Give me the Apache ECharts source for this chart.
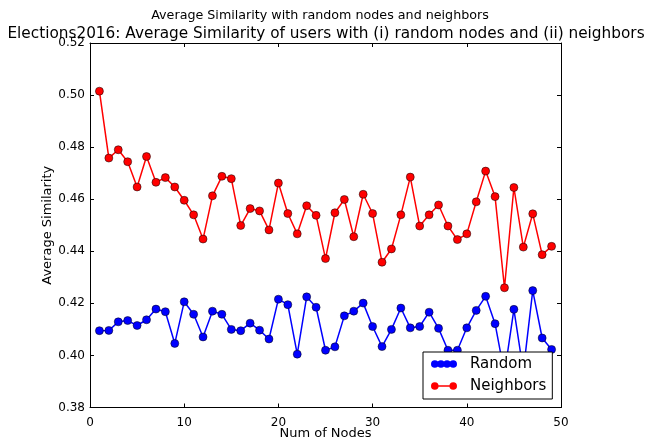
<!DOCTYPE html>
<html>
<head>
<meta charset="utf-8">
<script src="https://cdn.jsdelivr.net/npm/echarts@6/dist/echarts.min.js"></script>
<style>
  html, body { margin: 0; padding: 0; background: #fff; }
  #chart { width: 653px; height: 441px; }
</style>
</head>
<body>
<div id="chart"></div>
<script>
// Number of nodes sampled (x positions)
const nodes = [];
for (let n = 1; n <= 49; n++) nodes.push(n);

// Average similarity with random nodes
const randomSim = [
  0.4095, 0.4096, 0.4129, 0.4134, 0.4115, 0.4137, 0.4178, 0.4168, 0.4046, 0.4206,
  0.4158, 0.4071, 0.4170, 0.4158, 0.4100, 0.4095, 0.4124, 0.4097, 0.4063, 0.4216,
  0.4195, 0.4005, 0.4225, 0.4185, 0.4020, 0.4033, 0.4152, 0.4170, 0.4201, 0.4111,
  0.4034, 0.4100, 0.4182, 0.4106, 0.4111, 0.4166, 0.4104, 0.4020, 0.4020, 0.4106,
  0.4173, 0.4227, 0.4122, 0.3930, 0.4177, 0.3940, 0.4249, 0.4067, 0.4023
];

// Average similarity with neighbors
const neighborSim = [
  0.5015, 0.4758, 0.4790, 0.4744, 0.4647, 0.4764, 0.4665, 0.4683, 0.4647, 0.4596,
  0.4540, 0.4447, 0.4613, 0.4688, 0.4679, 0.4499, 0.4564, 0.4555, 0.4482, 0.4662,
  0.4545, 0.4467, 0.4575, 0.4538, 0.4372, 0.4548, 0.4599, 0.4456, 0.4619, 0.4545,
  0.4358, 0.4409, 0.4540, 0.4685, 0.4497, 0.4540, 0.4578, 0.4497, 0.4445, 0.4467,
  0.4590, 0.4708, 0.4610, 0.4260, 0.4645, 0.4416, 0.4544, 0.4387, 0.4419
];

const seriesNames = ['Random', 'Neighbors'];
const supTitle = 'Average Similarity with random nodes and neighbors';
const mainTitle = 'Elections2016: Average Similarity of users with (i) random nodes and (ii) neighbors';

const FONT = 'DejaVu Sans';

// Legend glyphs: a row of markers, and a line capped by two markers
const circle = (cx, cy, r) =>
  `M${cx - r},${cy} A${r},${r} 0 1,1 ${cx + r},${cy} A${r},${r} 0 1,1 ${cx - r},${cy} Z`;
const randomIcon = 'path://' + circle(4, 4, 3.7) + circle(10, 4, 3.7) + circle(16, 4, 3.7) + circle(22, 4, 3.7);
const neighborIcon = 'path://' + circle(4, 4, 3.7) + 'M4,3.3 L22,3.3 L22,4.7 L4,4.7 Z' + circle(22, 4, 3.7);

const pairs = vals => vals.map((v, i) => [nodes[i], v]);

const tickCommon = { inside: true, length: 4, lineStyle: { color: '#000', width: 1 } };
const lineCommon = { show: true, onZero: false, lineStyle: { color: '#000', width: 1 } };
const labelCommon = { color: '#000', fontFamily: FONT, fontSize: 12 };

const chart = echarts.init(document.getElementById('chart'), null, { renderer: 'canvas' });
chart.setOption({
  backgroundColor: '#fff',
  animation: false,
  title: [
    {
      text: supTitle, left: 315, top: 4, textAlign: 'center',
      textStyle: { fontFamily: FONT, fontSize: 12.7, fontWeight: 'normal', color: '#000' }
    },
    {
      text: mainTitle, left: 321, top: 22, textAlign: 'center',
      textStyle: { fontFamily: FONT, fontSize: 15.3, fontWeight: 'normal', color: '#000' }
    }
  ],
  grid: { left: 90, right: 92, top: 43, bottom: 33.5, containLabel: false, outerBoundsMode: 'none' },
  legend: {
    orient: 'vertical',
    left: 423, top: 352,
    padding: [4, 6, 5, 8],
    itemGap: 6,
    itemWidth: 26, itemHeight: 8,
    backgroundColor: '#fff',
    borderColor: '#000', borderWidth: 1, borderRadius: 0,
    textStyle: { fontFamily: FONT, fontSize: 15, color: '#000', lineHeight: 16, padding: [0, 0, 0, 8] },
    data: [
      { name: seriesNames[0], icon: randomIcon, itemStyle: { borderWidth: 0 } },
      { name: seriesNames[1], icon: neighborIcon, itemStyle: { borderWidth: 0 } }
    ]
  },
  xAxis: [
    {
      type: 'value', min: 0, max: 50, interval: 10, position: 'bottom',
      name: 'Num of Nodes', nameLocation: 'middle', nameGap: 20, nameMoveOverlap: false,
      nameTextStyle: { fontFamily: FONT, fontSize: 13, color: '#000' },
      axisLine: lineCommon, axisTick: tickCommon,
      axisLabel: Object.assign({ margin: 9 }, labelCommon),
      splitLine: { show: false }
    },
    {
      type: 'value', min: 0, max: 50, interval: 10, position: 'top',
      axisLine: lineCommon, axisTick: tickCommon,
      axisLabel: { show: false }, splitLine: { show: false }
    }
  ],
  yAxis: [
    {
      type: 'value', min: 0.38, max: 0.52, interval: 0.02, position: 'left',
      name: 'Average Similarity', nameLocation: 'middle', nameGap: 36, nameMoveOverlap: false,
      nameTextStyle: { fontFamily: FONT, fontSize: 13, color: '#000' },
      axisLine: lineCommon, axisTick: tickCommon,
      axisLabel: Object.assign({ margin: 5, formatter: v => v.toFixed(2) }, labelCommon),
      splitLine: { show: false }
    },
    {
      type: 'value', min: 0.38, max: 0.52, interval: 0.02, position: 'right',
      axisLine: lineCommon, axisTick: tickCommon,
      axisLabel: { show: false }, splitLine: { show: false }
    }
  ],
  series: [
    {
      name: seriesNames[0], type: 'line', data: pairs(randomSim),
      symbol: 'circle', symbolSize: 8,
      lineStyle: { color: '#0000ff', width: 1.5 },
      itemStyle: { color: '#0000ff', borderColor: '#000', borderWidth: 0.5 },
      z: 2
    },
    {
      name: seriesNames[1], type: 'line', data: pairs(neighborSim),
      symbol: 'circle', symbolSize: 8,
      lineStyle: { color: '#ff0000', width: 1.5 },
      itemStyle: { color: '#ff0000', borderColor: '#000', borderWidth: 0.5 },
      z: 3
    }
  ]
});
</script>
</body>
</html>
